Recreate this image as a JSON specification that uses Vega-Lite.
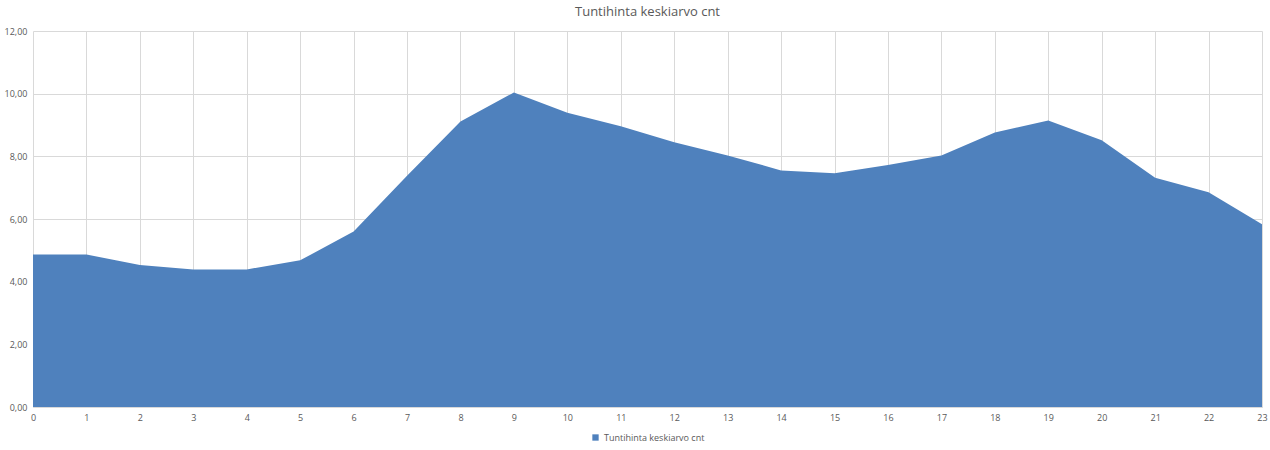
{
  "$schema": "https://vega.github.io/schema/vega-lite/v6.json",
  "width": 1270,
  "height": 450,
  "autosize": {"type": "fit", "contains": "padding"},
  "padding": {"left": 4, "right": 2, "top": 6, "bottom": 7},
  "background": "white",
  "title": {
    "text": "Tuntihinta keskiarvo cnt",
    "font": "Open Sans",
    "fontSize": 13,
    "fontWeight": "normal",
    "color": "#595959",
    "offset": 8
  },
  "config": {
    "view": {"stroke": null},
    "font": "Open Sans",
    "legend": {"layout": {"bottom": {"anchor": "middle"}}}
  },
  "data": {
    "values": [
      {"tunti": 0, "hinta": 4.87, "sarja": "Tuntihinta keskiarvo cnt"},
      {"tunti": 1, "hinta": 4.87, "sarja": "Tuntihinta keskiarvo cnt"},
      {"tunti": 2, "hinta": 4.53, "sarja": "Tuntihinta keskiarvo cnt"},
      {"tunti": 3, "hinta": 4.39, "sarja": "Tuntihinta keskiarvo cnt"},
      {"tunti": 4, "hinta": 4.39, "sarja": "Tuntihinta keskiarvo cnt"},
      {"tunti": 5, "hinta": 4.68, "sarja": "Tuntihinta keskiarvo cnt"},
      {"tunti": 6, "hinta": 5.6, "sarja": "Tuntihinta keskiarvo cnt"},
      {"tunti": 7, "hinta": 7.38, "sarja": "Tuntihinta keskiarvo cnt"},
      {"tunti": 8, "hinta": 9.11, "sarja": "Tuntihinta keskiarvo cnt"},
      {"tunti": 9, "hinta": 10.04, "sarja": "Tuntihinta keskiarvo cnt"},
      {"tunti": 10, "hinta": 9.39, "sarja": "Tuntihinta keskiarvo cnt"},
      {"tunti": 11, "hinta": 8.96, "sarja": "Tuntihinta keskiarvo cnt"},
      {"tunti": 12, "hinta": 8.45, "sarja": "Tuntihinta keskiarvo cnt"},
      {"tunti": 13, "hinta": 8.03, "sarja": "Tuntihinta keskiarvo cnt"},
      {"tunti": 14, "hinta": 7.55, "sarja": "Tuntihinta keskiarvo cnt"},
      {"tunti": 15, "hinta": 7.46, "sarja": "Tuntihinta keskiarvo cnt"},
      {"tunti": 16, "hinta": 7.72, "sarja": "Tuntihinta keskiarvo cnt"},
      {"tunti": 17, "hinta": 8.03, "sarja": "Tuntihinta keskiarvo cnt"},
      {"tunti": 18, "hinta": 8.76, "sarja": "Tuntihinta keskiarvo cnt"},
      {"tunti": 19, "hinta": 9.14, "sarja": "Tuntihinta keskiarvo cnt"},
      {"tunti": 20, "hinta": 8.51, "sarja": "Tuntihinta keskiarvo cnt"},
      {"tunti": 21, "hinta": 7.32, "sarja": "Tuntihinta keskiarvo cnt"},
      {"tunti": 22, "hinta": 6.85, "sarja": "Tuntihinta keskiarvo cnt"},
      {"tunti": 23, "hinta": 5.83, "sarja": "Tuntihinta keskiarvo cnt"}
    ]
  },
  "mark": {"type": "area", "opacity": 1},
  "encoding": {
    "x": {
      "field": "tunti",
      "type": "quantitative",
      "scale": {"domain": [0, 23], "nice": false, "zero": false},
      "axis": {
        "title": null,
        "values": [0,1,2,3,4,5,6,7,8,9,10,11,12,13,14,15,16,17,18,19,20,21,22,23],
        "format": "d",
        "grid": true,
        "gridColor": "#d9d9d9",
        "ticks": false,
        "domain": true,
        "domainColor": "#d9d9d9",
        "labelColor": "#595959",
        "labelFontSize": 9,
        "labelPadding": 6,
        "labelFlush": false
      }
    },
    "y": {
      "field": "hinta",
      "type": "quantitative",
      "scale": {"domain": [0, 12], "nice": false},
      "axis": {
        "title": null,
        "values": [0, 2, 4, 6, 8, 10, 12],
        "labelExpr": "replace(format(datum.value, '.2f'), '.', ',')",
        "grid": true,
        "gridColor": "#d9d9d9",
        "ticks": false,
        "domain": false,
        "labelColor": "#595959",
        "labelFontSize": 9,
        "labelPadding": 6
      }
    },
    "color": {
      "field": "sarja",
      "type": "nominal",
      "scale": {"range": ["#4F81BD"]},
      "legend": {
        "title": null,
        "orient": "bottom",
        "direction": "horizontal",
        "symbolType": "square",
        "symbolSize": 40,
        "symbolOpacity": 1,
        "labelColor": "#595959",
        "labelFontSize": 9,
        "offset": 11
      }
    }
  }
}
